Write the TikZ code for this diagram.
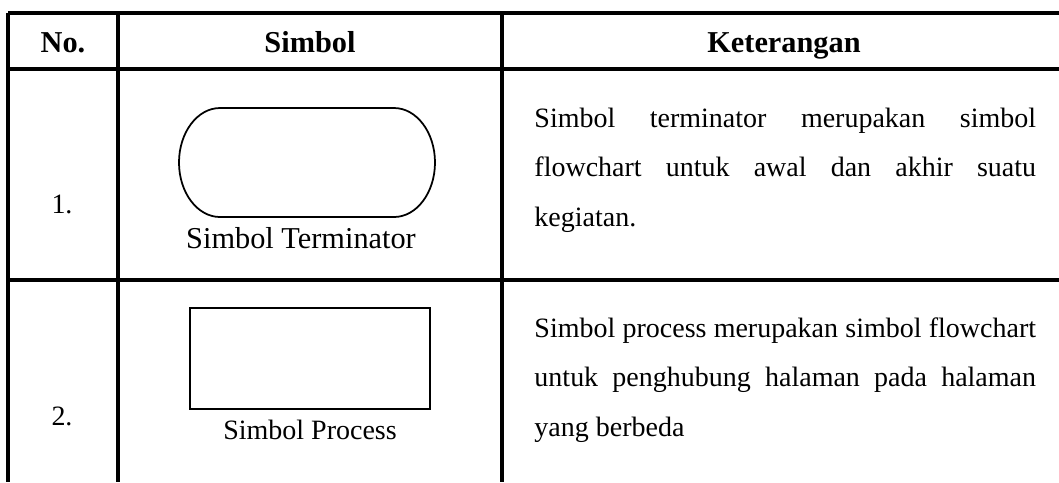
\documentclass[tikz,border=0pt]{standalone}
\usepackage{fontspec}
\setmainfont{Liberation Serif}
\usetikzlibrary{positioning}
\hyphenpenalty=10000
\exhyphenpenalty=10000
\tolerance=10000

\begin{document}
\begin{tikzpicture}[x=0.4286pt,y=-0.4286pt,
    rule/.style={line width=1.3pt},
    symline/.style={line width=0.75pt},
    headtext/.style={font=\bfseries\fontsize{13}{15}\selectfont,inner sep=0pt,anchor=base},
    celltext/.style={font=\fontsize{12}{14}\selectfont,inner sep=0pt,anchor=base},
    desctext/.style={font=\fontsize{12}{21.3}\selectfont,text width=215pt,align=justify,inner sep=0pt,anchor=base west}]
    \useasboundingbox (0,0) rectangle (1059,482);
    % table rules
    \draw[rule] (8,13) -- (1059,13) (8,69) -- (1059,69) (8,280) -- (1059,280);
    \draw[rule] (8,13) -- (8,482) (118,13) -- (118,482) (502,13) -- (502,482);
    % header
    \node[headtext] (hno) at (63,52) {No.};
    \node[headtext] (hsym) at (310,52) {Simbol};
    \node[headtext] (hket) at (784,52) {Keterangan};
    % row 1
    \node[celltext] (no1) at (62,213) {1.};
    \draw[symline] (220,108) -- (394,108)
        .. controls (416.6,108) and (435,132.4) .. (435,162.5)
        .. controls (435,192.6) and (416.6,217) .. (394,217) -- (220,217)
        .. controls (197.4,217) and (179,192.6) .. (179,162.5)
        .. controls (179,132.4) and (197.4,108) .. (220,108) -- cycle;
    \node[celltext,font=\fontsize{13}{15}\selectfont] (lbl1) at (301,248) {Simbol Terminator};
    \node[desctext] (desc1) at (534,127) {Simbol terminator merupakan simbol flowchart untuk awal dan akhir suatu kegiatan.};
    % row 2
    \node[celltext] (no2) at (62,425) {2.};
    \draw[symline] (190,308) rectangle (430,409);
    \node[celltext] (lbl2) at (310,439) {Simbol Process};
    \node[desctext] (desc2) at (534,337) {Simbol process merupakan simbol flowchart untuk penghubung halaman pada halaman yang berbeda};
\end{tikzpicture}
\end{document}
